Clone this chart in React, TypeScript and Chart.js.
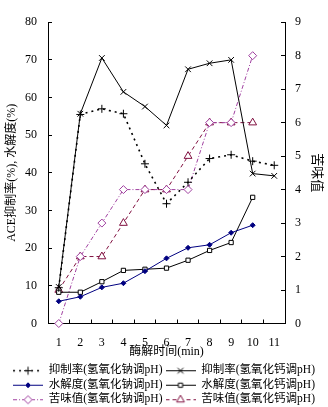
import React, { useEffect, useRef } from 'react';
import { Chart, registerables } from 'chart.js';
import { drawPoint } from 'chart.js/helpers';

Chart.register(...registerables);

const categories = ['1', '2', '3', '4', '5', '6', '7', '8', '9', '10', '11'];

const inhibitionNaOH = [9.5, 55.5, 57.0, 55.7, 42.4, 31.8, 37.5, 43.8, 44.8, 43.1, 42.0];
const inhibitionCaOH = [9.7, 55.7, 70.5, 61.5, 57.6, 52.6, 67.5, 69.1, 70.0, 39.8, 39.2];
const hydrolysisNaOH = [5.9, 7.1, 9.6, 10.7, 13.9, 17.3, 20.1, 20.9, 24.1, 26.1];
const hydrolysisCaOH = [8.3, 8.3, 11.1, 14.1, 14.4, 14.7, 16.8, 19.4, 21.5, 33.5];
const bitternessNaOH = [0, 2, 3, 4, 4, 4, 4, 6, 6, 8];
const bitternessCaOH = [1, 2, 2, 3, 4, 4, 5, 6, 6, 6];

const seriesLabels = [
  '抑制率(氢氧化钠调pH)',
  '抑制率(氢氧化钙调pH)',
  '水解度(氢氧化钠调pH)',
  '水解度(氢氧化钙调pH)',
  '苦味值(氢氧化钠调pH)',
  '苦味值(氢氧化钙调pH)',
];

const leftTicks = { min: 0, max: 80, step: 10 };
const rightTicks = { min: 0, max: 9, step: 1 };

const FONT = "'Liberation Serif', 'Noto Sans CJK SC', serif";

type Style = {
  color: string;
  dash: number[];
  width: number;
  point: string;
  radius: number;
  fill: string;
  axis: string;
};

const styles: Style[] = [
  { color: '#000000', dash: [2, 4], width: 1.6, point: 'cross', radius: 4, fill: '#000000', axis: 'y' },
  { color: '#000000', dash: [], width: 1, point: 'crossRot', radius: 4, fill: '#000000', axis: 'y' },
  { color: '#000080', dash: [], width: 1, point: 'rectRot', radius: 2.5, fill: '#000080', axis: 'y' },
  { color: '#000000', dash: [], width: 1, point: 'rect', radius: 3, fill: '#ffffff', axis: 'y' },
  { color: '#A040A0', dash: [4, 2, 1, 2], width: 1, point: 'rectRot', radius: 4, fill: '#ffffff', axis: 'y1' },
  { color: '#801040', dash: [4, 3], width: 1, point: 'triangle', radius: 4.5, fill: '#ffffff', axis: 'y1' },
];

const seriesData = [
  inhibitionNaOH,
  inhibitionCaOH,
  hydrolysisNaOH,
  hydrolysisCaOH,
  bitternessNaOH,
  bitternessCaOH,
];

function makeLegendImage(s: Style) {
  const c = document.createElement('canvas');
  c.width = 30;
  c.height = 12;
  const ctx = c.getContext('2d')!;
  ctx.strokeStyle = s.color;
  ctx.lineWidth = s.width;
  ctx.setLineDash(s.dash);
  ctx.beginPath();
  ctx.moveTo(0, 6.5);
  ctx.lineTo(30, 6.5);
  ctx.stroke();
  ctx.setLineDash([]);
  ctx.lineWidth = 1;
  ctx.fillStyle = s.fill;
  drawPoint(ctx, { pointStyle: s.point as any, radius: s.radius, borderWidth: 1, rotation: 0 } as any, 15, 6.5);
  return c;
}

export default function App() {
  const ref = useRef<HTMLCanvasElement | null>(null);

  useEffect(() => {
    document.body.style.margin = '0';
    const canvas = ref.current;
    if (!canvas) return;
    Chart.defaults.color = '#000';
    const images = styles.map(makeLegendImage);
    const font = { family: FONT, size: 12 };
    const legendFont = { family: FONT, size: 11.5 };

    const chart = new Chart(canvas, {
      type: 'line',
      data: {
        labels: categories,
        datasets: seriesData.map((d, i) => ({
          label: seriesLabels[i],
          data: d,
          yAxisID: styles[i].axis,
          borderColor: styles[i].color,
          borderWidth: styles[i].width,
          borderDash: styles[i].dash,
          tension: 0,
          fill: false,
          clip: false as any,
          pointStyle: styles[i].point as any,
          pointRadius: styles[i].radius,
          pointHoverRadius: styles[i].radius,
          pointBorderWidth: 1,
          pointBorderColor: styles[i].color,
          pointBackgroundColor: styles[i].fill,
        })),
      },
      options: {
        animation: false,
        responsive: false,
        layout: { padding: { top: 12, bottom: -8, left: 0, right: 0 } },
        plugins: {
          tooltip: { enabled: false },
          legend: {
            position: 'bottom',
            labels: {
              usePointStyle: true,
              pointStyleWidth: 30,
              padding: 3,
              font: legendFont,
              color: '#000',
              generateLabels: (ch: any) => {
                const items = (Chart.defaults.plugins.legend.labels as any).generateLabels(ch);
                return items.map((it: any, i: number) => ({ ...it, pointStyle: images[i], fontColor: '#000' }));
              },
            },
          },
        },
        scales: {
          x: {
            type: 'category',
            offset: true,
            grid: { display: true, drawOnChartArea: false, drawTicks: true, tickLength: -4, offset: true, color: '#000' },
            border: { display: true, color: '#000', width: 1 },
            ticks: { padding: 16, autoSkip: false, maxRotation: 0, font, color: '#000' },
            title: { display: true, text: '酶解时间(min)', font, color: '#000', padding: { top: 0, bottom: 2 } },
            afterFit: (s: any) => { s.height = 38; },
          },
          y: {
            position: 'left',
            min: leftTicks.min,
            max: leftTicks.max,
            grid: { display: true, drawOnChartArea: false, drawTicks: true, tickLength: -4, color: '#000' },
            border: { display: true, color: '#000', width: 1 },
            ticks: { stepSize: leftTicks.step, padding: 15, font, color: '#000' },
            title: { display: true, text: 'ACE抑制率(%), 水解度(%)', font, color: '#000', padding: { top: 5, bottom: 0 } },
            afterFit: (s: any) => { s.width = 48; },
          },
          y1: {
            position: 'right',
            min: rightTicks.min,
            max: rightTicks.max,
            grid: { display: true, drawOnChartArea: false, drawTicks: true, tickLength: -4, color: '#000' },
            border: { display: true, color: '#000', width: 1 },
            ticks: { stepSize: rightTicks.step, padding: 14, font, color: '#000' },
            title: { display: true, text: '苦味值', font: { family: FONT, size: 13 }, color: '#000', padding: { top: 4, bottom: 0 } },
            afterFit: (s: any) => { s.width = 43; },
          },
        },
      },
    });
    return () => chart.destroy();
  }, []);

  return (
    <div style={{ width: 328, height: 407, position: 'relative', background: '#fff' }}>
      <canvas ref={ref} width={328} height={407} style={{ display: 'block' }} />
    </div>
  );
}
